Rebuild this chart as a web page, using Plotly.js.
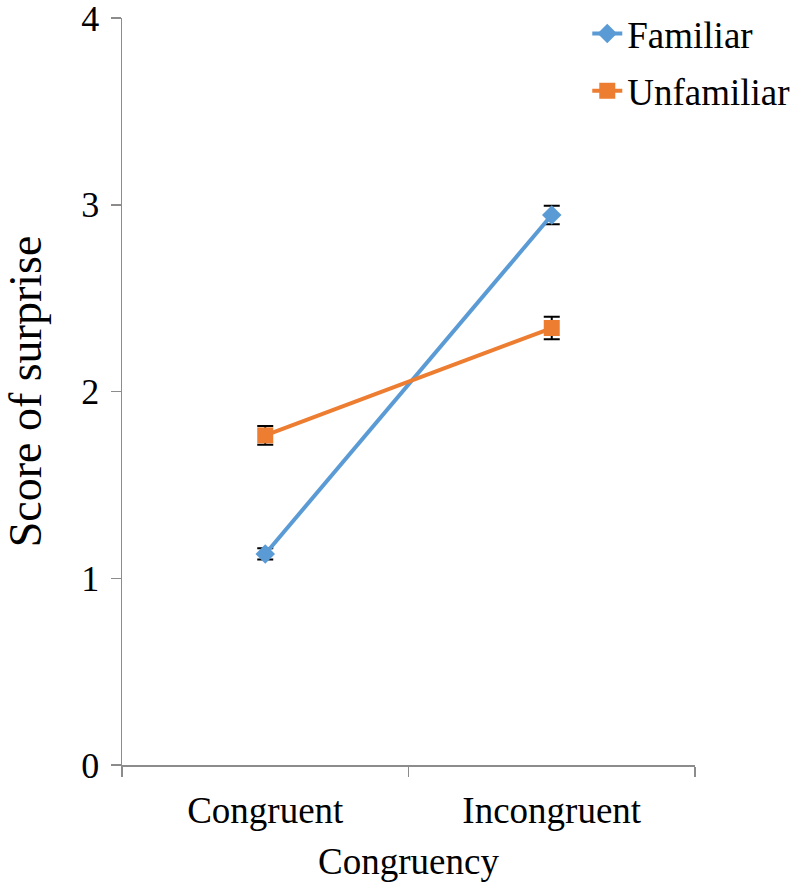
<!DOCTYPE html>
<html>
<head>
<meta charset="utf-8">
<script src="https://cdn.plot.ly/plotly-3.0.1.min.js"></script>
<style>html,body{margin:0;padding:0;background:#fff;}#chart{width:797px;height:887px;}</style>
</head>
<body>
<div id="chart"></div>
<script>
const categories = ["Congruent", "Incongruent"];
const familiarMeans = [1.13, 2.945];
const familiarErr = [0.03, 0.05];
const unfamiliarMeans = [1.765, 2.34];
const unfamiliarErr = [0.05, 0.06];
const yTicks = [0, 1, 2, 3, 4];

const font = "Liberation Serif, Times New Roman, serif";

const traces = [
  {
    x: categories, y: familiarMeans, name: "Familiar", type: "scatter", mode: "lines+markers",
    legendgroup: "a",
    line: {color: "#5B9BD5", width: 4},
    marker: {symbol: "diamond", size: 15, color: "#5B9BD5"},
    error_y: {type: "data", array: familiarErr, visible: true, color: "#000", thickness: 2, width: 8}
  },
  {
    x: categories, y: unfamiliarMeans, name: "Unfamiliar", type: "scatter", mode: "lines+markers",
    legendgroup: "b",
    line: {color: "#ED7D31", width: 4},
    marker: {symbol: "square", size: 16, color: "#ED7D31"},
    error_y: {type: "data", array: unfamiliarErr, visible: true, color: "#000", thickness: 2, width: 8}
  }
];

const layout = {
  width: 797, height: 887,
  margin: {l: 122, r: 102, t: 18, b: 122, autoexpand: false},
  paper_bgcolor: "#fff", plot_bgcolor: "#fff",
  font: {family: font, size: 37, color: "#000"},
  showlegend: true,
  legend: {
    x: 0.812, y: 1.02, xanchor: "left", yanchor: "top",
    font: {family: font, size: 37, color: "#000"},
    tracegroupgap: 6, bgcolor: "rgba(0,0,0,0)"
  },
  xaxis: {
    type: "category", range: [-0.5, 1.5], automargin: false,
    tickson: "boundaries", ticks: "outside", ticklen: 10, tickwidth: 1.5, tickcolor: "#8c8c8c",
    showline: true, linecolor: "#8c8c8c", linewidth: 1.5,
    showgrid: false, zeroline: false,
    ticklabelstandoff: 12,
    tickfont: {family: font, size: 37},
    title: {text: "Congruency", font: {family: font, size: 37}, standoff: 18}
  },
  yaxis: {
    range: [0, 4], tickvals: yTicks, ticktext: yTicks.map(String), automargin: false,
    ticks: "outside", ticklen: 10, tickwidth: 1.5, tickcolor: "#8c8c8c",
    showline: true, linecolor: "#8c8c8c", linewidth: 1.5,
    showgrid: false, zeroline: false,
    ticklabeloverflow: "allow",
    ticklabelstandoff: 4,
    tickfont: {family: font, size: 36},
    title: {text: "Score of surprise", font: {family: font, size: 46}, standoff: 30}
  }
};

Plotly.newPlot("chart", traces, layout, {displayModeBar: false, staticPlot: true});
</script>
</body>
</html>
